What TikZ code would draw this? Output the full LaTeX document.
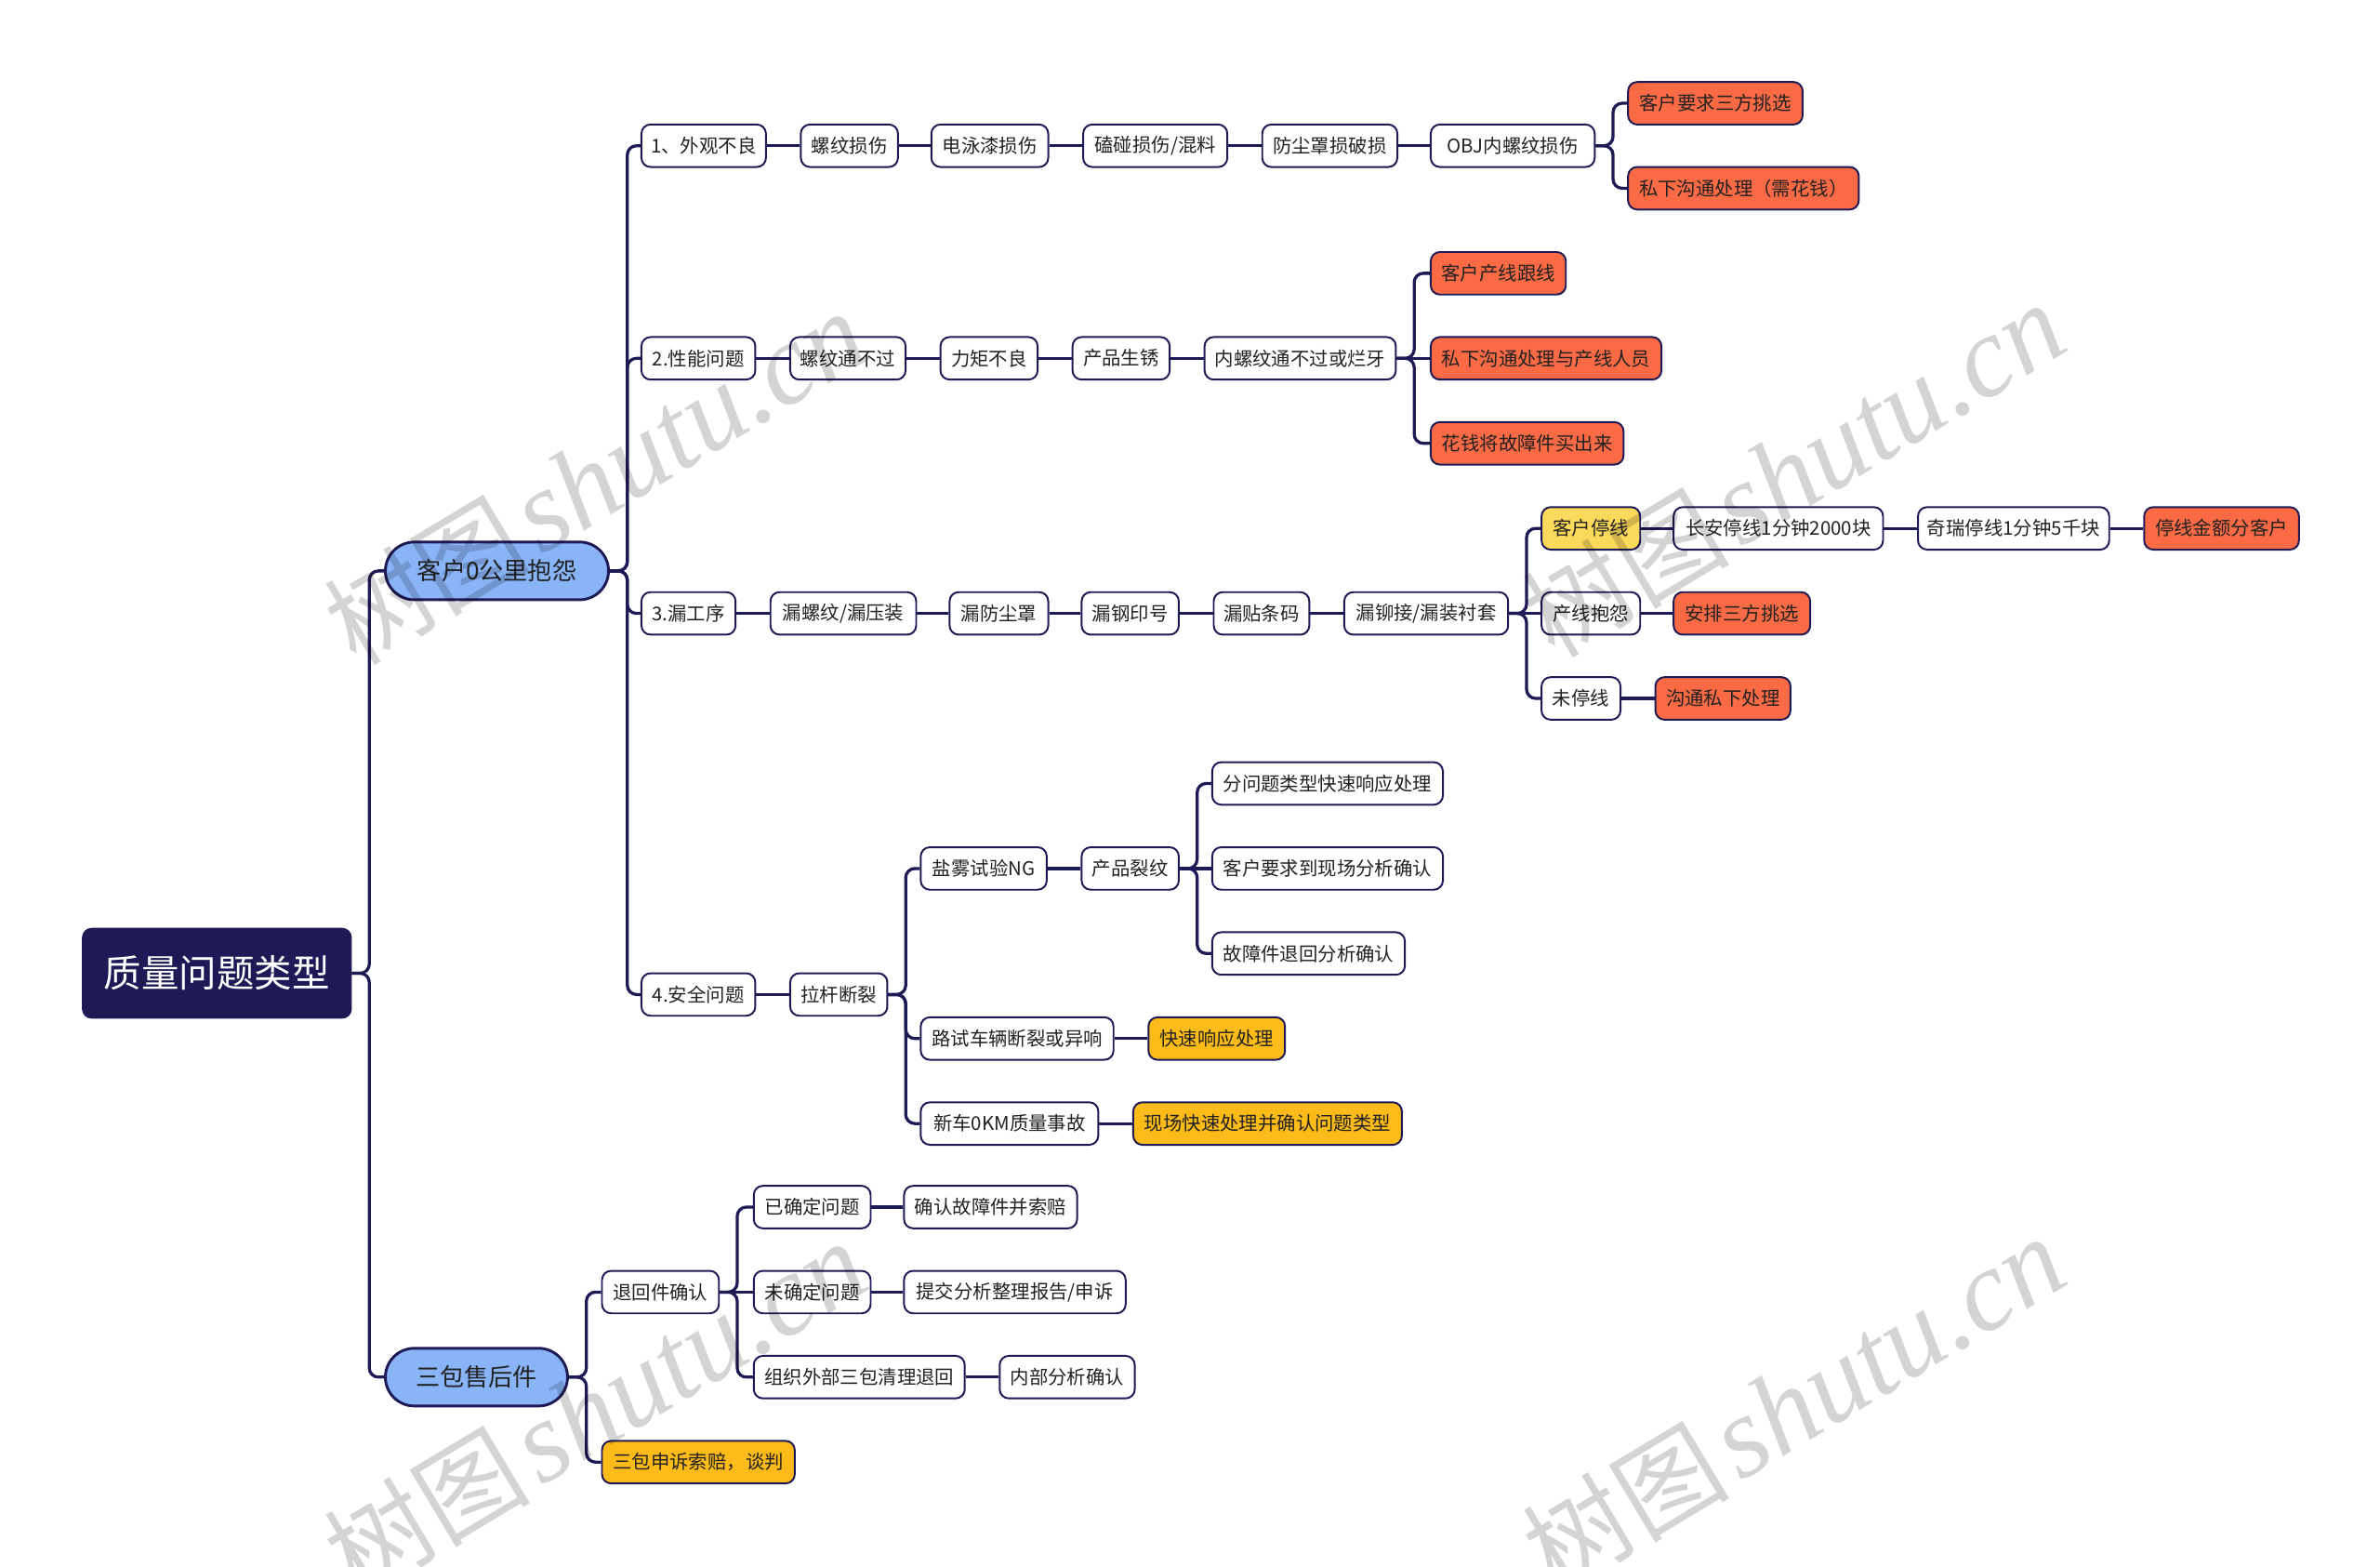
\documentclass[tikz,border=0pt]{standalone}
\usepackage{fontspec}
\newfontfamily\cjk{Noto Sans CJK SC}
\newfontfamily\wmserif{Liberation Serif}
\usetikzlibrary{backgrounds}
\definecolor{navy}{HTML}{1D1A55}
\definecolor{orangeN}{HTML}{F96A45}
\definecolor{yellowN}{HTML}{FBD95B}
\definecolor{amberN}{HTML}{FDBB1A}
\definecolor{blueN}{HTML}{8AB4F8}
\definecolor{txt}{HTML}{222222}
\newcommand\branchto[2]{\draw[conn] (#2.west) [rounded corners=3pt] -| ([xshift=5.75pt]#1.east) [sharp corners] -- (#1.east);}
\newcommand\linkto[2]{\draw[conn] (#1.east) -- (#2.west);}
\begin{document}
\begin{tikzpicture}[x=0.5pt,y=-0.5pt,
  box/.style={draw=navy, line width=0.6pt, rounded corners=3pt, fill=white, text=txt,
    minimum height=14pt, inner xsep=3pt, inner ysep=0pt, anchor=west,
    font=\cjk\fontsize{6.25}{7.5}\selectfont},
  org/.style={box, fill=orangeN},
  yel/.style={box, fill=yellowN},
  amb/.style={box, fill=amberN},
  pill/.style={draw=navy, line width=0.9pt, fill=blueN, rounded corners=9.5pt, text=txt,
    minimum height=19pt, inner xsep=3pt, inner ysep=0pt, anchor=west,
    font=\cjk\fontsize{8}{9.5}\selectfont},
  conn/.style={draw=navy, line width=1pt},
  wmark/.style={rotate=31, text=black, text opacity=0.17, inner sep=0pt}
]
\useasboundingbox (0,0) rectangle (1568,1032);

% root and level 1
\node[draw=navy, fill=navy, rounded corners=3pt, minimum width=88.5pt, minimum height=29.5pt,
  text=white, anchor=west, font=\cjk\fontsize{12.4}{14}\selectfont] (root) at (54,641) {质量问题类型};
\node[pill, minimum width=73.5pt] (kh) at (253,376) {客户0公里抱怨};
\node[pill, minimum width=60pt] (sb) at (253,907) {三包售后件};

% row 1
\node[box, minimum width=41pt] (a1) at (422,96) {1、外观不良};
\node[box, minimum width=32pt] (a2) at (527,96) {螺纹损伤};
\node[box, minimum width=38.5pt] (a3) at (613,96) {电泳漆损伤};
\node[box, minimum width=47.5pt] (a4) at (713,96) {磕碰损伤/混料};
\node[box, minimum width=44.5pt] (a5) at (831,96) {防尘罩损破损};
\node[box, minimum width=54pt] (a6) at (942,96) {OBJ内螺纹损伤};
\node[org, minimum width=57.5pt] (a7) at (1072,68) {客户要求三方挑选};
\node[org, minimum width=76pt] (a8) at (1072,124) {私下沟通处理（需花钱）};

% row 2
\node[box, minimum width=37.5pt] (b1) at (422,236) {2.性能问题};
\node[box, minimum width=38pt] (b2) at (520,236) {螺纹通不过};
\node[box, minimum width=32pt] (b3) at (619,236) {力矩不良};
\node[box, minimum width=32pt] (b4) at (706,236) {产品生锈};
\node[box, minimum width=63pt] (b5) at (793,236) {内螺纹通不过或烂牙};
\node[org, minimum width=44.5pt] (b6) at (942,180) {客户产线跟线};
\node[org, minimum width=76pt] (b7) at (942,236) {私下沟通处理与产线人员};
\node[org, minimum width=63.5pt] (b8) at (942,292) {花钱将故障件买出来};

% row 3
\node[box, minimum width=31pt] (c1) at (422,404) {3.漏工序};
\node[box, minimum width=48pt] (c2) at (507,404) {漏螺纹/漏压装};
\node[box, minimum width=32.5pt] (c3) at (625,404) {漏防尘罩};
\node[box, minimum width=32pt] (c4) at (712,404) {漏钢印号};
\node[box, minimum width=31.5pt] (c5) at (799,404) {漏贴条码};
\node[box, minimum width=54pt] (c6) at (885,404) {漏铆接/漏装衬套};
\node[yel, minimum width=32.5pt] (c7) at (1015,348) {客户停线};
\node[box, minimum width=32.5pt] (c8) at (1015,404) {产线抱怨};
\node[box, minimum width=26pt] (c9) at (1015,460) {未停线};
\node[box, minimum width=69pt] (c10) at (1102,348) {长安停线1分钟2000块};
\node[box, minimum width=63pt] (c11) at (1263,348) {奇瑞停线1分钟5千块};
\node[org, minimum width=51pt] (c12) at (1412,348) {停线金额分客户};
\node[org, minimum width=45pt] (c13) at (1102,404) {安排三方挑选};
\node[org, minimum width=44.5pt] (c14) at (1090,460) {沟通私下处理};

% row 4
\node[box, minimum width=37.5pt] (d1) at (422,655) {4.安全问题};
\node[box, minimum width=32pt] (d2) at (520,655) {拉杆断裂};
\node[box, minimum width=41.5pt] (d3) at (606,572) {盐雾试验NG};
\node[box, minimum width=32pt] (d4) at (712,572) {产品裂纹};
\node[box, minimum width=76pt] (d5) at (798,516) {分问题类型快速响应处理};
\node[box, minimum width=76pt] (d6) at (798,572) {客户要求到现场分析确认};
\node[box, minimum width=63.5pt] (d7) at (798,628) {故障件退回分析确认};
\node[box, minimum width=63.5pt] (d8) at (606,684) {路试车辆断裂或异响};
\node[amb, minimum width=45pt] (d9) at (756,684) {快速响应处理};
\node[box, minimum width=58.5pt] (d10) at (606,740) {新车0KM质量事故};
\node[amb, minimum width=88.5pt] (d11) at (746,740) {现场快速处理并确认问题类型};

% san bao
\node[box, minimum width=38.5pt] (e1) at (396,851) {退回件确认};
\node[box, minimum width=38.5pt] (e2) at (496,795) {已确定问题};
\node[box, minimum width=57pt] (e3) at (595,795) {确认故障件并索赔};
\node[box, minimum width=38.5pt] (e4) at (496,851) {未确定问题};
\node[box, minimum width=73pt] (e5) at (595,851) {提交分析整理报告/申诉};
\node[box, minimum width=69.5pt] (e6) at (496,907) {组织外部三包清理退回};
\node[box, minimum width=44.5pt] (e7) at (658,907) {内部分析确认};
\node[amb, minimum width=63.5pt] (e8) at (396,963) {三包申诉索赔，谈判};

\begin{pgfonlayer}{background}
\fill[white] (0,0) rectangle (1568,1032);
\branchto{root}{kh}
\branchto{root}{sb}
\branchto{kh}{a1}
\branchto{kh}{b1}
\branchto{kh}{c1}
\branchto{kh}{d1}
\linkto{a1}{a2}\linkto{a2}{a3}\linkto{a3}{a4}\linkto{a4}{a5}\linkto{a5}{a6}
\branchto{a6}{a7}
\branchto{a6}{a8}
\linkto{b1}{b2}\linkto{b2}{b3}\linkto{b3}{b4}\linkto{b4}{b5}
\branchto{b5}{b6}
\linkto{b5}{b7}
\branchto{b5}{b8}
\linkto{c1}{c2}\linkto{c2}{c3}\linkto{c3}{c4}\linkto{c4}{c5}\linkto{c5}{c6}
\branchto{c6}{c7}
\linkto{c6}{c8}
\branchto{c6}{c9}
\linkto{c7}{c10}\linkto{c10}{c11}\linkto{c11}{c12}
\linkto{c8}{c13}
\linkto{c9}{c14}
\linkto{d1}{d2}
\branchto{d2}{d3}
\branchto{d2}{d8}
\branchto{d2}{d10}
\linkto{d3}{d4}
\branchto{d4}{d5}
\linkto{d4}{d6}
\branchto{d4}{d7}
\linkto{d8}{d9}
\linkto{d10}{d11}
\branchto{sb}{e1}
\branchto{sb}{e8}
\branchto{e1}{e2}
\linkto{e1}{e4}
\branchto{e1}{e6}
\linkto{e2}{e3}
\linkto{e4}{e5}
\linkto{e6}{e7}
\end{pgfonlayer}

% watermarks
\foreach \n/\px/\py in {1/392/315, 2/1182/310, 3/392/928, 4/1182/925}{
  \node[wmark] (wm\n) at (\px,\py) {{\cjk\fontsize{34}{40}\selectfont 树图} {\wmserif\itshape\fontsize{38}{44}\selectfont shutu.cn}};
}
\end{tikzpicture}
\end{document}
